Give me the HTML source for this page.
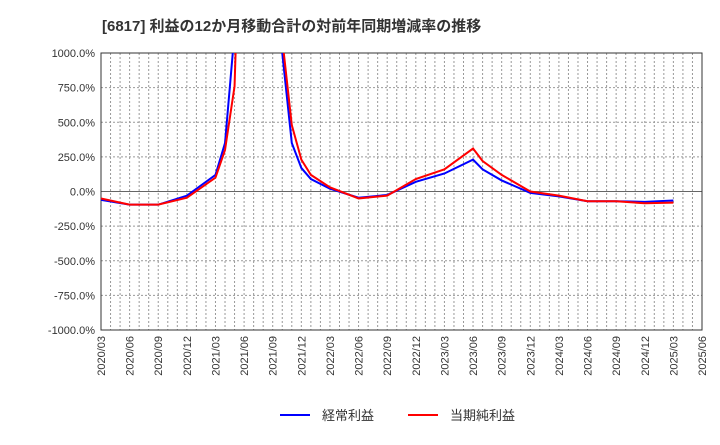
<!DOCTYPE html>
<html><head><meta charset="utf-8"><style>
body{margin:0;background:#fff;font-family:"Liberation Sans","Noto Sans CJK JP",sans-serif}
</style></head><body>
<svg id="c" width="720" height="440" xmlns="http://www.w3.org/2000/svg">
<text x="102" y="31" font-size="15" font-weight="bold" fill="#333" font-family="Liberation Sans,Noto Sans CJK JP,sans-serif">[6817]  利益の12か月移動合計の対前年同期増減率の推移</text>
</svg>
<script>
const months=["2020/03","2020/06","2020/09","2020/12","2021/03","2021/04","2021/05","2021/06","2021/07","2021/08","2021/09","2021/10","2021/11","2021/12","2022/01","2022/03","2022/06","2022/09","2022/12","2023/03","2023/06","2023/07","2023/09","2023/12","2024/03","2024/06","2024/09","2024/12","2025/03"];
const keijo=[-60,-95,-95,-30,120,350,1150,3000,3000,3000,3000,1000,350,170,90,20,-45,-25,70,130,230,160,80,-10,-35,-70,-70,-75,-65];
const junri=[-50,-95,-95,-45,100,300,760,3000,3000,3000,3000,1100,480,230,120,30,-50,-30,90,160,310,220,120,0,-30,-70,-70,-85,-80];
const yTicks=[1000,750,500,250,0,-250,-500,-750,-1000];
const xTickLabels=["2020/03","2020/06","2020/09","2020/12","2021/03","2021/06","2021/09","2021/12","2022/03","2022/06","2022/09","2022/12","2023/03","2023/06","2023/09","2023/12","2024/03","2024/06","2024/09","2024/12","2025/03","2025/06"];
const L=101,R=702,T=53,B=330,NS="http://www.w3.org/2000/svg";
const svg=document.getElementById('c');
function mi(s){const [y,m]=s.split('/').map(Number);return (y-2020)*12+(m-3);}
function X(s){return L+mi(s)*(R-L)/63;}
function Y(v){return T+(1000-v)*(B-T)/2000;}
function el(t,a){const e=document.createElementNS(NS,t);for(const k in a)e.setAttribute(k,a[k]);svg.appendChild(e);return e;}
const clip=el('clipPath',{id:'pc'});const cr=document.createElementNS(NS,'rect');cr.setAttribute('x',L);cr.setAttribute('y',T);cr.setAttribute('width',R-L);cr.setAttribute('height',B-T);clip.appendChild(cr);
for(let i=1;i<63;i++){const x=L+i*(R-L)/63;const g=el('line',{x1:x,x2:x,y1:T,y2:B,stroke:'#999','stroke-dasharray':'2,2','stroke-width':1});

}
yTicks.forEach(v=>{const y=Y(v);const g=el('line',{x1:L,x2:R,y1:y,y2:y,stroke:v===0?'#666':'#999','stroke-dasharray':v===0?'':'2,2','stroke-width':1});


const t=el('text',{x:L-6,y:y+4,'text-anchor':'end','font-size':11,fill:'#333'});t.textContent=v.toFixed(1)+'%';

});
xTickLabels.forEach(s=>{const x=X(s);const t=el('text',{transform:`translate(${x+4},${B+6}) rotate(-90)`,'text-anchor':'end','font-size':11,fill:'#333'});t.textContent=s;

});
const fr=el('rect',{x:L,y:T,width:R-L,height:B-T,fill:'none',stroke:'#333','stroke-width':1});


function line(vals,col,name){const p=el('polyline',{points:vals.map((v,i)=>X(months[i])+','+Y(v)).join(' '),fill:'none',stroke:col,'stroke-width':2,'clip-path':'url(#pc)'});

}
line(keijo,'#0000ff','series-keijo-rieki');
line(junri,'#ff0000','series-toki-junrieki');
[[280,'#0000ff','経常利益','legend-keijo'],[408,'#ff0000','当期純利益','legend-junri']].forEach(([x,c,n,d])=>{
const g=el('line',{x1:x,x2:x+30,y1:415,y2:415,stroke:c,'stroke-width':2});


const t=el('text',{x:x+42,y:420,'font-size':13,fill:'#333'});t.textContent=n;

});
</script>
</body></html>
